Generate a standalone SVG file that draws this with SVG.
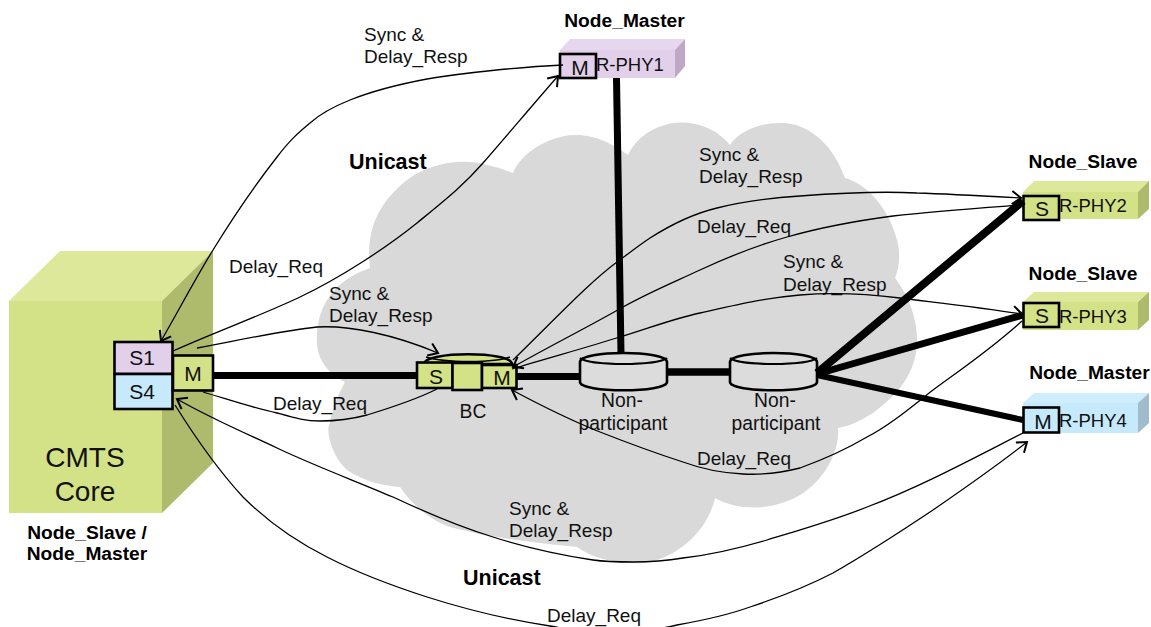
<svg xmlns="http://www.w3.org/2000/svg" width="1151" height="627" viewBox="0 0 1151 627">
<defs>
<marker id="ah" markerUnits="userSpaceOnUse" markerWidth="16" markerHeight="16" refX="13" refY="8" orient="auto"><path d="M4 1.5 L13 8 L4 14.5" fill="none" stroke="#000" stroke-width="2"/></marker>
</defs>
<style>
text{font-family:"Liberation Sans",Arial,sans-serif;font-size:19px;fill:#111}
.b{font-weight:bold;font-size:19.2px;fill:#000}
.u{font-size:21.5px}
.c{font-size:21px;text-anchor:middle}
.m{font-size:21px;text-anchor:middle}
.n{font-size:19.3px;text-anchor:middle}
.t{font-size:18.5px}
.big{font-size:28px;text-anchor:middle}
.thin{fill:none;stroke:#000;stroke-width:1.3}
.thick{fill:none;stroke:#000}
.box{stroke:#000;stroke-width:2.6}
.g{fill:#d3e287}.gs{fill:#dde89b}.gd{fill:#aeba6c}
.p{fill:#e2cfea}.ps{fill:#e6d6ee}.pd{fill:#bda9c6}
.l{fill:#c6eafc}.ls{fill:#cfeefd}.ld{fill:#a0bccb}
.cyl{fill:#dcdcdc;stroke:#000;stroke-width:2.6}
</style>
<g id="cloud"><path fill="#d9d9d9" d="M370 268 C366 235 375 205 407 180 C430 162 465 158 487 165 C497 167 505 170 513 173 C520 155 545 137 573 135 C595 134 615 145 628 155 C635 140 650 127 673 123 C697 120 718 130 730 145 C738 132 760 122 783 123 C810 124 833 145 845 178 C870 185 890 212 897 240 C901 255 899 268 895 278 C908 295 916 315 917 337 C918 365 905 390 873 413 C860 421 850 426 838 428 C840 450 825 480 800 495 C775 510 740 512 715 498 C708 530 680 555 650 562 C625 566 595 560 577 547 C540 543 490 538 450 527 C430 520 412 505 400 487 C385 486 365 482 347 470 C332 457 325 430 330 423 C332 410 338 395 345 382 C325 372 315 355 317 335 C318 305 335 280 370 268 Z"/></g>
<g id="cmts-core">
<polygon class="g" points="9,301 162,301 162,513 9,513"/>
<polygon class="gs" points="9,301 60,251 213,251 162,301"/>
<polygon class="gd" points="162,301 213,251 213,463 162,513"/>
<rect class="p box" x="114.500" y="342" width="58" height="32"/>
<rect class="l box" x="114.500" y="374" width="58" height="35"/>
<rect class="g box" x="173" y="355.500" width="40" height="35"/>
<text class="c" x="142" y="365">S1</text>
<text class="c" x="142" y="399">S4</text>
<text class="m" x="193" y="381">M</text>
<text class="big" x="85" y="467">CMTS</text>
<text class="big" x="85" y="501">Core</text>
<text class="b" x="87" y="539" text-anchor="middle">Node_Slave /</text>
<text class="b" x="87" y="560" text-anchor="middle">Node_Master</text>
</g>
<g id="bc">
<path class="g box" d="M424 364 C424 351 512 351 512 364 Z"/>
<path fill="none" stroke="#000" stroke-width="1.5" d="M426 357 C445 363 495 363 510 357"/>
<rect class="g box" x="417" y="362.500" width="35.500" height="25.500"/>
<rect class="g box" x="452.500" y="363" width="29.500" height="27"/>
<rect class="g box" x="482" y="365" width="34.500" height="23"/>
<text class="m" x="436" y="384">S</text>
<text class="m" x="502" y="385">M</text>
<text class="n" x="473" y="418">BC</text>
</g>
<g id="non-participant-1">
<path class="cyl" d="M580 362 C580 350 667 350 667 362 V382 C667 393 580 393 580 382 Z"/>
<path fill="none" stroke="#000" stroke-width="2.2" d="M580 358 C590 366 657 366 667 358"/>
<text class="n" x="622" y="407">Non-</text>
<text class="n" x="623" y="430">participant</text>
</g>
<g id="non-participant-2">
<path class="cyl" d="M730 362 C730 350 817 350 817 362 V382 C817 393 730 393 730 382 Z"/>
<path fill="none" stroke="#000" stroke-width="2.2" d="M730 358 C740 366 807 366 817 358"/>
<text class="n" x="775" y="407">Non-</text>
<text class="n" x="776" y="430">participant</text>
</g>
<g id="r-phy1">
<polygon class="p" points="560,50 675,50 675,78 560,78"/>
<polygon class="ps" points="560,50 570,39 685,39 675,50"/>
<polygon class="pd" points="675,50 685,39 685,66 675,78"/>
<text class="t" x="596" y="71">R-PHY1</text>
<rect class="p box" x="560" y="54" width="36" height="24"/>
<text class="m" x="580" y="75">M</text>
<text class="b" x="624.500" y="27" text-anchor="middle">Node_Master</text>
</g>
<g id="r-phy2">
<polygon class="g" points="1023,192 1138,192 1138,219 1023,219"/>
<polygon class="gs" points="1023,192 1034,181 1149,181 1138,192"/>
<polygon class="gd" points="1138,192 1149,181 1149,209 1138,219"/>
<text class="t" x="1059" y="212">R-PHY2</text>
<rect class="g box" x="1023.500" y="196" width="35.500" height="24"/>
<text class="m" x="1042" y="216">S</text>
<text class="b" x="1083" y="168" text-anchor="middle">Node_Slave</text>
</g>
<g id="r-phy3">
<polygon class="g" points="1023,302 1138,302 1138,330 1023,330"/>
<polygon class="gs" points="1023,302 1034,292 1149,292 1138,302"/>
<polygon class="gd" points="1138,302 1149,292 1149,320 1138,330"/>
<text class="t" x="1059" y="323">R-PHY3</text>
<rect class="g box" x="1023.500" y="303" width="35.500" height="24"/>
<text class="m" x="1042" y="323">S</text>
<text class="b" x="1083" y="280" text-anchor="middle">Node_Slave</text>
</g>
<g id="r-phy4">
<polygon class="l" points="1023,403 1138,403 1138,433 1023,433"/>
<polygon class="ls" points="1023,403 1034,393 1149,393 1138,403"/>
<polygon class="ld" points="1138,403 1149,393 1149,423 1138,433"/>
<text class="t" x="1059" y="427">R-PHY4</text>
<rect class="l box" x="1023.500" y="407.500" width="35.500" height="25"/>
<text class="m" x="1043" y="429">M</text>
<text class="b" x="1089.500" y="379" text-anchor="middle">Node_Master</text>
</g>
<g id="labels">
<text x="364" y="41">Sync &amp;</text><text x="364" y="63">Delay_Resp</text>
<text class="b u" x="349" y="169">Unicast</text>
<text x="229" y="273">Delay_Req</text>
<text x="329" y="300">Sync &amp;</text><text x="329" y="322">Delay_Resp</text>
<text x="273" y="410">Delay_Req</text>
<text x="699" y="161">Sync &amp;</text><text x="699" y="183">Delay_Resp</text>
<text x="697" y="233">Delay_Req</text>
<text x="783" y="268">Sync &amp;</text><text x="783" y="291">Delay_Resp</text>
<text x="697" y="465">Delay_Req</text>
<text x="509" y="515">Sync &amp;</text><text x="509" y="537">Delay_Resp</text>
<text class="b u" x="463" y="585">Unicast</text>
<text x="547" y="622">Delay_Req</text>
</g>
<g id="connectors">
<path class="thick" stroke-width="7" d="M213 375.500 H417"/>
<path class="thick" stroke-width="7" d="M516 376.500 H580"/>
<path class="thick" stroke-width="7" d="M616.500 78 L621 354"/>
<path class="thick" stroke-width="7.500" d="M667 372 H730"/>
<path class="thick" stroke-width="8" d="M817 373 L1023 201"/>
<path class="thick" stroke-width="7" d="M817 374 L1023 315"/>
<path class="thick" stroke-width="6" d="M817 375 L1023 420"/>
<path class="thin" marker-end="url(#ah)" d="M563 65 C520 67 462 73 427 79 C395 85 370 92 350 100 C330 108 320 114 310 123 C298 133 290 140 277 157 C259 180 232 219 213 250 C194 281 180 308 161 341"/>
<path class="thin" marker-end="url(#ah)" d="M173 351 C215 332 260 316 300 297 C340 278 386 248 417 223 C445 200 463 186 483 163 C505 138 530 108 558 76"/>
<path class="thin" marker-end="url(#ah)" d="M197 348 C240 340 280 331 317 327 C350 325 395 335 438 353"/>
<path class="thin" d="M203 392 C230 400 250 407 277 413 C295 418 305 421 320 421 C340 421 352 419 367 415 C390 408 415 400 437 389"/>
<path class="thin" marker-end="url(#ah)" d="M513 360 C560 314 590 282 617 262 C628 254 638 246 650 238 C672 224 692 214 717 208 C745 201 770 198 800 196 C840 193 880 191 917 193 C950 194 985 196 1021 198"/>
<path class="thin" marker-end="url(#ah)" d="M1021 205 C980 208 935 211 893 216 C855 221 822 227 787 237 C755 246 730 256 700 270 C672 283 650 292 623 307 C590 326 550 346 513 367"/>
<path class="thin" marker-end="url(#ah)" d="M512 369 C548 358 585 348 620 337 C647 329 672 319 700 313 C735 305 765 298 800 295 C835 292 868 294 900 298 C940 303 985 308 1022 314"/>
<path class="thin" marker-end="url(#ah)" d="M1022 321 C990 350 960 370 933 390 C910 408 890 425 867 437 C845 450 822 460 800 468 C780 473 762 475 743 474 C722 473 702 469 683 462 C655 453 628 443 600 432 C570 420 540 405 512 390"/>
<path class="thin" marker-end="url(#ah)" d="M1023 433 C970 460 920 487 867 507 C835 520 800 530 767 540 C740 548 710 555 683 558 C665 561 650 562 633 562 C620 562 607 562 593 560 C560 555 527 548 493 537 C460 527 425 512 393 497 C353 480 315 466 277 448 C243 432 210 418 177 399"/>
<path class="thin" marker-end="url(#ah)" d="M175 405 C195 437 218 470 243 497 C268 522 297 542 327 557 C360 574 393 586 427 597 C468 610 510 620 550 626 C590 634 640 634 677 625 C705 620 728 615 750 607 C780 597 806 587 833 573 C868 553 900 532 933 510 C965 488 998 465 1027 442"/>
</g>
</svg>
